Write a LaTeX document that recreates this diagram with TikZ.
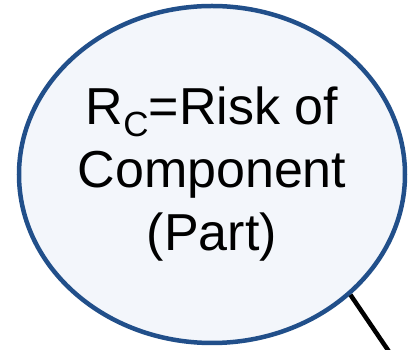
\documentclass[tikz,border=0pt]{standalone}
\usepackage{fontspec}
\setmainfont{Liberation Sans}
\usetikzlibrary{shapes.geometric}
\definecolor{bubblefill}{RGB}{243,246,251}
\definecolor{bubbleline}{RGB}{33,79,138}
\tikzset{
  bubble/.style={ellipse, draw=bubbleline, fill=bubblefill, line width=4.5pt,
    inner sep=0pt, minimum width=386pt, minimum height=337pt, align=center,
    font=\fontsize{52}{63}\selectfont},
  link/.style={draw=black, line width=4.5pt}
}
\newcommand{\subC}{\raisebox{-0.23em}{\fontsize{35}{35}\selectfont C}}
\begin{document}
\begin{tikzpicture}[x=1pt,y=1pt]
  \useasboundingbox (0,0) rectangle (408,350);
  % risk bubble and the connector leaving its lower right side
  \node[bubble] (rc) at (212,175.5) {R\subC=Risk of\\Component\\(Part)};
  \coordinate (tail) at (392,-6);
  \draw[link] (rc.-41.6) -- (tail);
\end{tikzpicture}
\end{document}
